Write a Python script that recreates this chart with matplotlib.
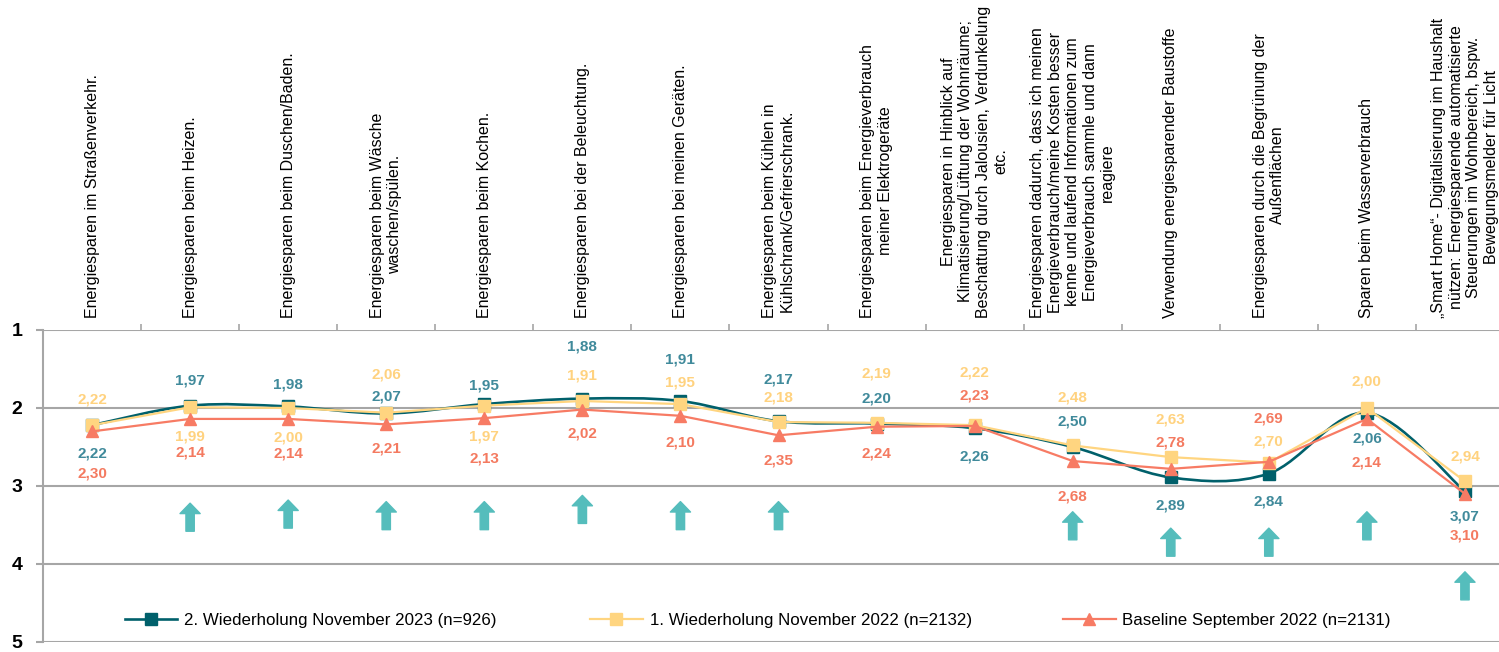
import numpy as np
import matplotlib
matplotlib.use("Agg")
import matplotlib.pyplot as plt
from matplotlib.path import Path
from matplotlib.patches import PathPatch
from matplotlib.lines import Line2D
from matplotlib.legend import Legend

plt.rcParams["font.family"] = ["Liberation Sans", "DejaVu Sans"]

categories = [
    "Energiesparen im Straßenverkehr.",
    "Energiesparen beim Heizen.",
    "Energiesparen beim Duschen/Baden.",
    "Energiesparen beim Wäsche\nwaschen/spülen.",
    "Energiesparen beim Kochen.",
    "Energiesparen bei der Beleuchtung.",
    "Energiesparen bei meinen Geräten.",
    "Energiesparen beim Kühlen in\nKühlschrank/Gefrierschrank.",
    "Energiesparen beim Energieverbrauch\nmeiner Elektrogeräte",
    "Energiesparen in Hinblick auf\nKlimatisierung/Lüftung der Wohnräume;\nBeschattung durch Jalousien, Verdunkelung\netc.",
    "Energiesparen dadurch, dass ich meinen\nEnergieverbrauch/meine Kosten besser\nkenne und laufend Informationen zum\nEnergieverbrauch sammle und dann\nreagiere",
    "Verwendung energiesparender Baustoffe",
    "Energiesparen durch die Begrünung der\nAußenflächen",
    "Sparen beim Wasserverbrauch",
    "„Smart Home“- Digitalisierung im Haushalt\nnützen: Energiesparende automatisierte\nSteuerungen im Wohnbereich, bspw.\nBewegungsmelder für Licht",
]

wdh2_2023 = [2.22, 1.97, 1.98, 2.07, 1.95, 1.88, 1.91, 2.17, 2.20, 2.26, 2.50, 2.89, 2.84, 2.06, 3.07]
wdh1_2022 = [2.22, 1.99, 2.00, 2.06, 1.97, 1.91, 1.95, 2.18, 2.19, 2.22, 2.48, 2.63, 2.70, 2.00, 2.94]
baseline_2022 = [2.30, 2.14, 2.14, 2.21, 2.13, 2.02, 2.10, 2.35, 2.24, 2.23, 2.68, 2.78, 2.69, 2.14, 3.10]

series_names = [
    "2. Wiederholung November 2023 (n=926)",
    "1. Wiederholung November 2022 (n=2132)",
    "Baseline September 2022 (n=2131)",
]

# categories marked with an improvement arrow, and where the arrow tip sits
arrow_cats = [1, 2, 3, 4, 5, 6, 7, 10, 11, 12, 13, 14]
arrow_tips = [3.22, 3.18, 3.20, 3.20, 3.12, 3.20, 3.20, 3.33, 3.54, 3.54, 3.33, 4.10]

# label offsets in pixels (negative = above the point)
teal_off = [28, -25, -22, -17, -19, -52, -41, -42, -25, 28, -25, 28, 28, 26, 25]
yellow_off = [-26, 29, 29, -38, 31, -25, -22, -25, -49, -53, -48, -38, -21, -26, -25]
red_off = [42, 34, 35, 24, 40, 24, 27, 25, 27, -30, 35, -26, -43, 44, 42]

TEAL = "#00606B"
TEAL_TXT = "#408A9B"
YELLOW = "#FFD580"
YELLOW_TXT = "#FFD27F"
RED = "#F77B64"
RED_TXT = "#F47A60"
ARROW = "#55BDBC"
GRID = "#A6A6A6"


def smooth_path(x, y):
    """Excel-like smoothed line through the points (cubic bezier segments)."""
    pts = np.column_stack([x, y]).astype(float)
    n = len(pts)
    verts = [pts[0]]
    codes = [Path.MOVETO]
    for i in range(n - 1):
        p0 = pts[i - 1] if i > 0 else pts[i]
        p1 = pts[i]
        p2 = pts[i + 1]
        p3 = pts[i + 2] if i + 2 < n else pts[i + 1]
        verts += [p1 + (p2 - p0) / 6, p2 - (p3 - p1) / 6, p2]
        codes += [Path.CURVE4] * 3
    return Path(verts, codes)


fig = plt.figure(figsize=(14.99, 6.52), dpi=100)
ax = fig.add_axes([43 / 1499, 10 / 652, 1471 / 1499, 312 / 652])

x = np.arange(len(categories))
ax.set_xlim(-0.5, len(categories) - 0.5)
ax.set_ylim(5, 1)

# grid lines at every integer
for v in range(1, 6):
    ax.axhline(v, color=GRID, lw=1.5, zorder=1)
for s in ["top", "right", "bottom"]:
    ax.spines[s].set_visible(False)
ax.spines["left"].set_color(GRID)
ax.spines["left"].set_linewidth(1.5)

ax.set_yticks([1, 2, 3, 4, 5])
ax.set_yticklabels(["1", "2", "3", "4", "5"], fontsize=14, fontweight="bold")
ax.tick_params(axis="y", length=5, width=1.5, color=GRID, pad=10)
ax.set_xticks(x[:-1] + 0.5)
ax.tick_params(axis="x", top=True, bottom=False, labelbottom=False,
               length=4, width=1.2, color=GRID, direction="out")

# series
ax.add_patch(PathPatch(smooth_path(x, wdh2_2023), fill=False, edgecolor=TEAL, lw=1.9, zorder=3))
ax.plot(x, wdh2_2023, ls="none", marker="s", ms=8, color=TEAL, zorder=3)
ax.plot(x, wdh1_2022, marker="s", ms=8, color=YELLOW, lw=1.6, zorder=4)
ax.plot(x, baseline_2022, marker="^", ms=8, color=RED, lw=1.6, zorder=5)

# data labels
for vals, offs, col in [(wdh2_2023, teal_off, TEAL_TXT),
                        (wdh1_2022, yellow_off, YELLOW_TXT),
                        (baseline_2022, red_off, RED_TXT)]:
    for i, v in enumerate(vals):
        ax.annotate(f"{v:.2f}".replace(".", ","), (i, v),
                    xytext=(0, -offs[i] * 0.72), textcoords="offset points",
                    ha="center", va="center", fontsize=11, fontweight="bold",
                    color=col, zorder=6)

# arrows
for c, tip in zip(arrow_cats, arrow_tips):
    ax.annotate("", xy=(c, tip), xytext=(c, tip + 0.36),
                arrowprops=dict(arrowstyle="simple,head_length=0.75,head_width=1.45,tail_width=0.6",
                                color=ARROW, shrinkA=0, shrinkB=0, mutation_scale=10),
                zorder=2)

# category labels above the plot
for i, lab in enumerate(categories):
    ax.annotate(lab, (i, 1), xytext=(0, 9), textcoords="offset points",
                rotation=90, ha="center", va="bottom", multialignment="center",
                fontsize=11.5, annotation_clip=False)

# legend, three entries spread like the original
handles = [
    Line2D([], [], color=TEAL, lw=1.9, marker="s", ms=8),
    Line2D([], [], color=YELLOW, lw=1.6, marker="s", ms=8),
    Line2D([], [], color=RED, lw=1.6, marker="^", ms=8),
]
for h, name, xpos in zip(handles, series_names, [0.0557, 0.372, 0.6934]):
    leg = Legend(ax, [h], [name], loc="center left", bbox_to_anchor=(xpos, 0.07),
                 frameon=False, fontsize=12.2, borderpad=0, borderaxespad=0,
                 handlelength=3.1, handletextpad=0.4)
    ax.add_artist(leg)

fig.savefig("out.png", dpi=100)
